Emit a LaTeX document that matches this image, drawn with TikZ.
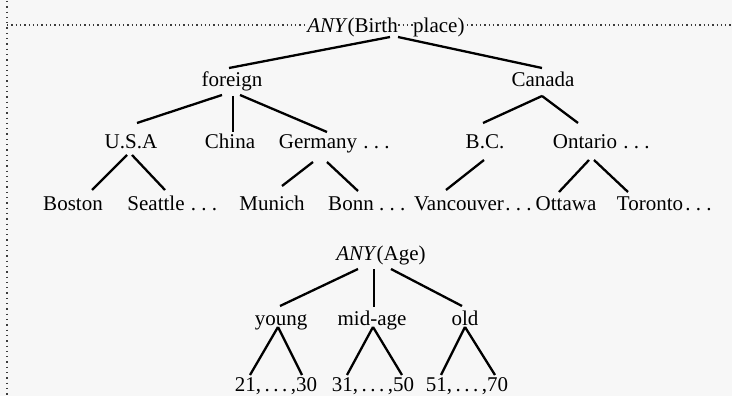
\documentclass[tikz,border=0pt]{standalone}
\usepackage{fontspec}
\setmainfont{Liberation Serif}
\definecolor{bg}{RGB}{247,247,247}
\definecolor{dotc}{RGB}{60,60,60}
\begin{document}
\begin{tikzpicture}[x=1pt,y=-1pt,
  lab/.style={inner sep=0pt, font=\fontsize{21}{24}\selectfont, anchor=base},
  dotsnode/.style={inner sep=0pt, font=\fontsize{21}{24}\selectfont, anchor=base west},
  edge/.style={line width=2.3pt, black},
  hdots/.style={dotc, line width=1.3pt, dash pattern=on 1.3pt off 3pt},
  vdots/.style={dotc, line width=1.3pt, dash pattern=on 1.3pt off 4pt}]
\fill[bg] (0,0) rectangle (732,396);
\useasboundingbox (0,0) rectangle (732,396);
% dotted frame lines
\coordinate (vtop) at (7,1);
\coordinate (vbot) at (7,396);
\coordinate (hleft) at (7,25);
\coordinate (hright) at (732,25);
\draw[vdots] (vtop) -- (vbot);
\draw[hdots] (hleft) -- (hright);
% root of the birth-place tree
\node[lab, anchor=base east, fill=bg] (rootA) at (398,33) {\textit{ANY}(Birth};
\node[lab, anchor=base west, fill=bg] (rootB) at (413,33) {place)};
% level 1
\node[lab] (foreign) at (232,87) {foreign};
\node[lab] (canada) at (543,87) {Canada};
% level 2
\node[lab] (usa) at (131,149) {U.S.A};
\node[lab] (china) at (230,149) {China};
\node[lab] (germany) at (318,149) {Germany};
\node[dotsnode] (germanydots) at ([xshift=6]germany.base east) {.\ .\ .};
\node[lab] (bc) at (485,149) {B.C.};
\node[lab] (ontario) at (585,149) {Ontario};
\node[dotsnode] (ontariodots) at ([xshift=6]ontario.base east) {.\ .\ .};
% level 3
\node[lab] (boston) at (73,210) {Boston};
\node[lab] (seattle) at (156,210) {Seattle};
\node[dotsnode] (seattledots) at ([xshift=6]seattle.base east) {.\ .\ .};
\node[lab] (munich) at (272,210) {Munich};
\node[lab] (bonn) at (351,210) {Bonn};
\node[dotsnode] (bonndots) at ([xshift=5]bonn.base east) {.\ .\ .};
\node[lab] (vancouver) at (459,210) {Vancouver};
\node[dotsnode] (vancouverdots) at ([xshift=1]vancouver.base east) {.\ .\ .};
\node[lab] (ottawa) at (566,210) {Ottawa};
\node[lab] (toronto) at (650,210) {Toronto};
\node[dotsnode] (torontodots) at ([xshift=2]toronto.base east) {.\ .\ .};
% age tree
\node[lab] (anyage) at (381,260) {\textit{ANY}(Age)};
\node[lab] (young) at (281,325) {young};
\node[lab] (midage) at (372,325) {mid-age};
\node[lab] (old) at (465,325) {old};
\node[lab] (n21) at (276,391) {21,\,.\,.\,.\,,30};
\node[lab] (n31) at (373,391) {31,\,.\,.\,.\,,50};
\node[lab] (n51) at (467,391) {51,\,.\,.\,.\,,70};
% connectors: birth place
\draw[edge] ([shift={(-8,4)}]rootA.base east) -- ([shift={(-3,-19)}]foreign.base);
\draw[edge] ([shift={(0,4)}]rootA.base east) -- ([shift={(-1,-19)}]canada.base);
\draw[edge] ([shift={(-10,8)}]foreign.base) -- ([shift={(6,-26)}]usa.base);
\draw[edge] ([shift={(1,9)}]foreign.base) -- ([shift={(3,-17)}]china.base);
\draw[edge] ([shift={(8,8)}]foreign.base) -- ([shift={(9,-17)}]germany.base);
\draw[edge] ([shift={(-1,9)}]canada.base) -- ([shift={(-2,-26)}]bc.base);
\draw[edge] ([shift={(-1,9)}]canada.base) -- ([shift={(-7,-26)}]ontario.base);
\draw[edge] ([shift={(-4,6)}]usa.base) -- ([shift={(19,-20)}]boston.base);
\draw[edge] ([shift={(1,6)}]usa.base) -- ([shift={(9,-20)}]seattle.base);
\draw[edge] ([shift={(-5,13)}]germany.base) -- ([shift={(10,-24)}]munich.base);
\draw[edge] ([shift={(9,13)}]germany.base) -- ([shift={(7,-19)}]bonn.base);
\draw[edge] ([shift={(-1,11)}]bc.base) -- ([shift={(-13,-20)}]vancouver.base);
\draw[edge] ([shift={(4,11)}]ontario.base) -- ([shift={(-7,-18)}]ottawa.base);
\draw[edge] ([shift={(9,11)}]ontario.base) -- ([shift={(-22,-18)}]toronto.base);
% connectors: age
\draw[edge] ([shift={(-23,9)}]anyage.base) -- ([shift={(-1,-19)}]young.base);
\draw[edge] ([shift={(-7,9)}]anyage.base) -- ([shift={(2,-18)}]midage.base);
\draw[edge] ([shift={(10,9)}]anyage.base) -- ([shift={(-3,-19)}]old.base);
\draw[edge] ([shift={(-3,2)}]young.base) -- ([shift={(-26,-16)}]n21.base);
\draw[edge] ([shift={(-3,2)}]young.base) -- ([shift={(26,-16)}]n21.base);
\draw[edge] ([shift={(1,2)}]midage.base) -- ([shift={(-26,-16)}]n31.base);
\draw[edge] ([shift={(1,2)}]midage.base) -- ([shift={(29,-16)}]n31.base);
\draw[edge] ([shift={(0,2)}]old.base) -- ([shift={(-26,-16)}]n51.base);
\draw[edge] ([shift={(0,2)}]old.base) -- ([shift={(28,-16)}]n51.base);
\end{tikzpicture}
\end{document}
